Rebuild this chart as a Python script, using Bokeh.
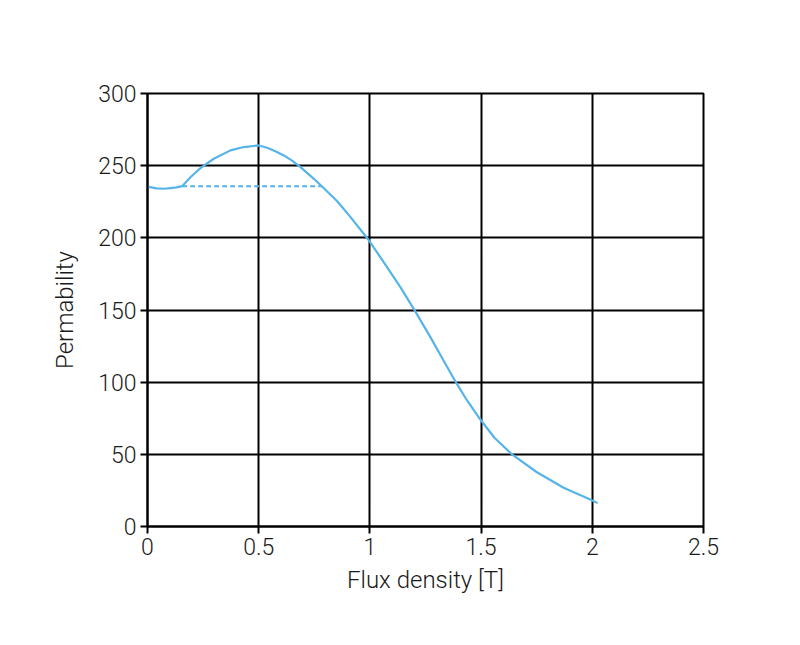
from bokeh.plotting import figure
from bokeh.models import Range1d, NumeralTickFormatter, FixedTicker
from bokeh.embed import file_html
from bokeh.resources import INLINE

# curve
flux = [0.0, 0.04, 0.074, 0.103, 0.13, 0.156, 0.193, 0.238, 0.298, 0.373, 0.433, 0.5,
        0.538, 0.575, 0.613, 0.65, 0.688, 0.748, 0.785, 0.822, 0.852, 0.912, 0.99,
        1.062, 1.137, 1.204, 1.272, 1.331, 1.389, 1.437, 1.489, 1.56, 1.639, 1.751,
        1.871, 1.991, 2.024]
perm = [235.5, 234.3, 234.0, 234.5, 235.0, 235.8, 242.0, 248.3, 254.8, 260.6, 262.9, 264.0,
        262.4, 260.0, 257.1, 253.5, 249.0, 240.9, 235.6, 230.0, 225.5, 214.5, 199.4,
        183.2, 165.8, 149.0, 131.2, 115.0, 99.3, 87.3, 75.7, 61.5, 49.9, 37.6,
        26.8, 18.7, 16.2]

# dashed level
dash_x = [0.156, 0.785]
dash_y = [235.8, 235.8]

x_ticks = [0, 0.5, 1, 1.5, 2, 2.5]
y_ticks = [0, 50, 100, 150, 200, 250, 300]

FONT = "Roboto Light, Roboto"
BLUE = "#56b4e9"

p = figure(width=784, height=629, output_backend="svg", toolbar_location=None,
           x_range=Range1d(0, 2.5), y_range=Range1d(0, 300),
           x_axis_label="Flux density [T]", y_axis_label="Permability",
           min_border_left=147, min_border_right=81, min_border_top=93, min_border_bottom=103)

p.line(flux, perm, line_color=BLUE, line_width=2.2, line_join="round")
p.line(dash_x, dash_y, line_color=BLUE, line_width=2, line_dash="5 3")

p.xaxis.ticker = FixedTicker(ticks=x_ticks)
p.yaxis.ticker = FixedTicker(ticks=y_ticks)
p.xaxis.formatter = NumeralTickFormatter(format="0.[0]")
p.yaxis.formatter = NumeralTickFormatter(format="0")

for ax in p.axis:
    ax.axis_line_color = "black"
    ax.axis_line_width = 2
    ax.major_tick_line_color = "black"
    ax.major_tick_line_width = 2
    ax.major_tick_out = 7
    ax.major_tick_in = 0
    ax.minor_tick_line_color = None
    ax.major_label_text_font = FONT
    ax.major_label_text_font_size = "23px"
    ax.major_label_text_color = "#1a1a1a"
    ax.axis_label_text_font = FONT
    ax.axis_label_text_font_size = "24px"
    ax.axis_label_text_font_style = "normal"
    ax.axis_label_text_color = "#1a1a1a"

p.xaxis.major_label_standoff = 4
p.yaxis.major_label_standoff = 4
p.xaxis.axis_label_standoff = 8
p.yaxis.axis_label_standoff = 16

p.grid.grid_line_color = "black"
p.grid.grid_line_width = 2
p.grid.grid_line_alpha = 1
p.outline_line_color = "black"
p.outline_line_width = 2
p.outline_line_alpha = 1

open("out.html", "w").write(file_html(p, INLINE))
